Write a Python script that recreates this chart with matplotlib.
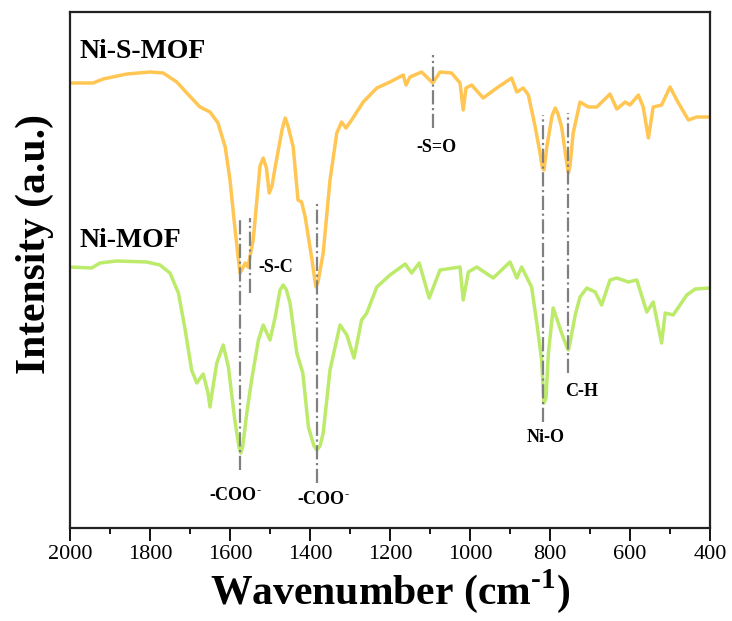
import matplotlib
matplotlib.use('Agg')
import matplotlib.pyplot as plt

plt.rcParams['font.family'] = ['Liberation Serif', 'DejaVu Serif']
plt.rcParams['mathtext.fontset'] = 'custom'
plt.rcParams['mathtext.rm'] = 'Liberation Serif:bold'
plt.rcParams['mathtext.bf'] = 'Liberation Serif:bold'

# espectro FTIR, Ni-S-MOF (curva de cima)
onda_s = [2000, 1942, 1917, 1858, 1800, 1767, 1733, 1708, 1675, 1650, 1630, 1612, 1600, 1588,
          1580, 1575, 1568, 1562, 1555, 1542, 1530, 1525, 1517, 1509, 1502, 1495, 1487, 1470, 1462,
          1455, 1442, 1430, 1421, 1412, 1395, 1388, 1385, 1380, 1367, 1350, 1333, 1321, 1310, 1296,
          1267, 1233, 1200, 1167, 1160, 1150, 1121, 1093, 1075, 1046, 1025, 1017, 1010, 996, 967,
          933, 896, 883, 867, 854, 837, 825, 819, 815, 808, 795, 787, 780, 771, 758, 754, 750, 742,
          725, 704, 683, 650, 633, 612, 600, 579, 567, 554, 542, 521, 500, 479, 454, 433, 400]
int_s = [4.45, 4.45, 4.49, 4.54, 4.56, 4.55, 4.46, 4.35, 4.21, 4.16, 4.05, 3.81, 3.48, 3.01,
         2.72, 2.55, 2.60, 2.65, 2.61, 2.88, 3.40, 3.62, 3.70, 3.60, 3.35, 3.42, 3.61, 3.98, 4.10,
         4.02, 3.81, 3.28, 3.26, 3.11, 2.68, 2.48, 2.41, 2.46, 2.75, 3.48, 3.95, 4.06, 4.00, 4.08,
         4.26, 4.40, 4.46, 4.53, 4.43, 4.51, 4.56, 4.45, 4.56, 4.55, 4.45, 4.18, 4.40, 4.43, 4.30,
         4.40, 4.50, 4.36, 4.40, 4.33, 4.01, 3.75, 3.60, 3.58, 3.81, 4.12, 4.20, 4.14, 4.01, 3.65, 3.55, 3.62, 3.95,
         4.26, 4.21, 4.21, 4.34, 4.19, 4.26, 4.23, 4.33, 4.21, 3.90, 4.21, 4.23, 4.41, 4.25, 4.08, 4.11, 4.11]

# espectro FTIR, Ni-MOF (curva de baixo)
onda_m = [2000, 1946, 1925, 1883, 1808, 1775, 1750, 1729, 1712, 1696, 1683, 1667, 1655, 1650, 1645,
          1633, 1617, 1604, 1588, 1578, 1573, 1568, 1558, 1546, 1529, 1517, 1500, 1487, 1475, 1467,
          1459, 1450, 1433, 1418, 1404, 1390, 1383, 1375, 1367, 1350, 1325, 1308, 1290, 1271, 1258,
          1233, 1200, 1162, 1146, 1127, 1102, 1075, 1025, 1017, 1004, 983, 942, 900, 883, 871, 846,
          833, 821, 815, 810, 804, 792, 771, 757, 754, 750, 737, 725, 708, 687, 671, 650, 633, 604,
          583, 558, 542, 521, 512, 492, 458, 437, 400]
int_m = [2.61, 2.60, 2.65, 2.67, 2.66, 2.63, 2.55, 2.35, 1.98, 1.58, 1.45, 1.54, 1.35, 1.21, 1.35,
         1.65, 1.83, 1.61, 1.08, 0.82, 0.75, 0.82, 1.15, 1.48, 1.88, 2.03, 1.88, 2.11, 2.38, 2.43,
         2.38, 2.25, 1.75, 1.55, 1.01, 0.82, 0.78, 0.82, 0.95, 1.58, 2.03, 1.93, 1.70, 2.08, 2.15,
         2.41, 2.53, 2.64, 2.55, 2.65, 2.30, 2.58, 2.61, 2.28, 2.56, 2.61, 2.50, 2.66, 2.50, 2.61, 2.41,
         2.05, 1.68, 1.25, 1.30, 1.75, 2.20, 1.95, 1.80, 1.78, 1.85, 2.13, 2.31, 2.40, 2.36, 2.23, 2.48, 2.50, 2.46,
         2.48, 2.16, 2.26, 1.85, 2.15, 2.13, 2.33, 2.39, 2.40]

# linhas de referência das bandas (posição, y inicial, y final)
banda_pos = [1575, 1550, 1383, 1093, 817, 754]
banda_y0 = [0.58, 2.35, 0.45, 4.00, 1.06, 1.55]
banda_y1 = [3.10, 3.10, 3.26, 4.73, 4.13, 4.15]

# rótulos das bandas (texto, x, y)
rotulos = [r'-COO$^{\text{-}}$', r'-COO$^{\text{-}}$', '-S=O', 'C-H', 'Ni-O']
rot_x = [1587, 1367, 1085, 722, 812]
rot_y = [0.33, 0.28, 3.81, 1.36, 0.90]

fig = plt.figure(figsize=(7.32, 6.21), dpi=100)
ax = fig.add_axes([70/732, 93/621, 640/732, 516/621])

ax.plot(onda_s, int_s, color='#FFC653', lw=2.5, solid_joinstyle='round')
ax.plot(onda_m, int_m, color='#BCEA6A', lw=2.5, solid_joinstyle='round')

for p, a, b in zip(banda_pos, banda_y0, banda_y1):
    ax.vlines(p, a, b, colors='#808080', linestyles='-.', lw=1.6)

for t, x, y in zip(rotulos, rot_x, rot_y):
    ax.text(x, y, t, ha='center', va='center', fontsize=13, fontweight='bold')
ax.text(1530, 2.60, '-S-C', ha='left', va='center', fontsize=13, fontweight='bold')

ax.text(1975, 4.77, 'Ni-S-MOF', ha='left', va='center', fontsize=20, fontweight='bold')
ax.text(1975, 2.88, 'Ni-MOF', ha='left', va='center', fontsize=20, fontweight='bold')

ax.set_xlim(2000, 400)
ax.set_ylim(0, 5.16)
ax.set_xticks(range(2000, 399, -200))
ax.set_xticks(range(1900, 400, -200), minor=True)
ax.set_yticks([])
ax.tick_params(axis='x', which='major', length=9, width=1.3, labelsize=16, direction='out')
ax.tick_params(axis='x', which='minor', length=4.5, width=1.3, direction='out')
for s in ax.spines.values():
    s.set_linewidth(1.6)
    s.set_color('#222222')

ax.set_xlabel(r'Wavenumber (cm$^{\text{-1}}$)', fontsize=30, fontweight='bold', labelpad=2)
ax.set_ylabel('Intensity (a.u.)', fontsize=30, fontweight='bold')
ax.yaxis.set_label_coords(-0.025, 0.55)

fig.savefig('out.png', dpi=100)
